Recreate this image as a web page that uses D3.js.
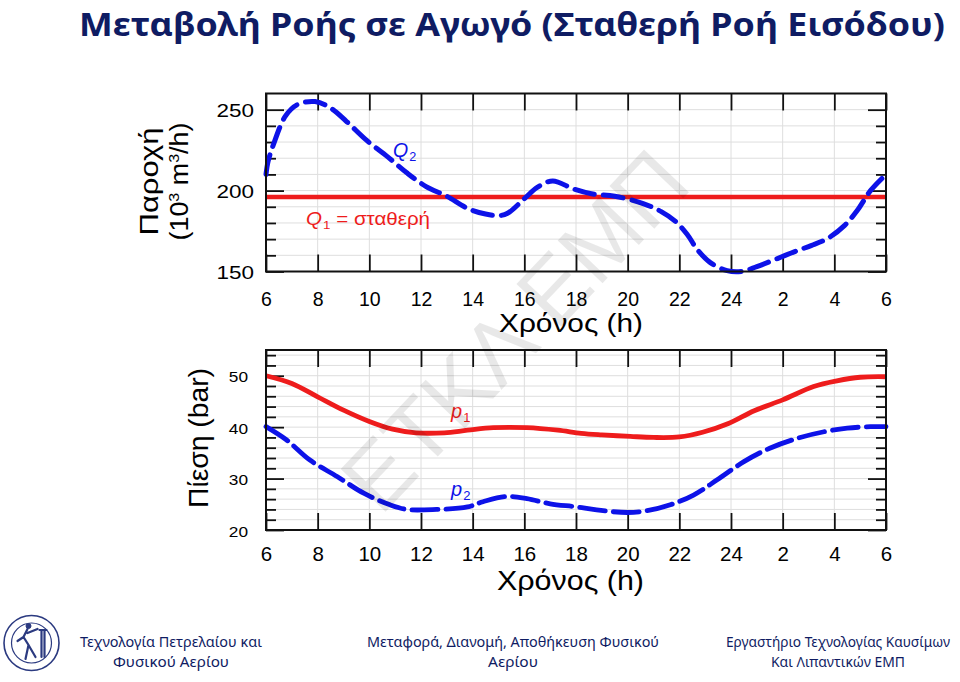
<!DOCTYPE html>
<html><head><meta charset="utf-8">
<script src="https://cdn.jsdelivr.net/npm/d3@7"></script>
<style>body{margin:0;background:#fff}</style>
</head><body>
<svg id="c" width="960" height="682"></svg>
<script>
// ---------- data ----------
const xTickValues = [6,8,10,12,14,16,18,20,22,24,26,28,30];
const xTickLabels = ["6","8","10","12","14","16","18","20","22","24","2","4","6"];
const flowTickValues = [150,200,250];
const flowMinorTicks = [160,170,180,190,210,220,230,240];
const flowGrid = [160,170,180,190,200,210,220,230,240,250];
const pressureTickValues = [20,30,40,50];
const pressureMinorTicks = [22,24,26,28,32,34,36,38,42,44,46,48,52,54];
const pressureGrid = [22,24,26,28,30,32,34,36,38,40,42,44,46,48,50,52,54];

const q1Hours = [6,30];
const q1Values = [196,196];
const q2Hours = [6,6.08,6.3,6.75,7.2,7.9,8.5,9.1,9.9,10.7,11.45,12.2,13,13.8,14.5,15,15.35,16,16.5,17.1,17.9,18.6,19.5,20.6,21.3,21.85,22.3,22.7,23.2,23.85,24.4,25,25.8,26.5,27.1,27.75,28.4,28.9,29.4,30];
const q2Values = [210,218,229,246,253,255,251,243,231,221,211,202.5,196.5,189,185.5,184.5,186,195,202,206,201,198,196.5,192,187,181,173,163.5,155.5,150.5,150,153,158,162.5,166,170.5,178.5,188,200,210];

const p1Hours = [6,7,8,9,10,10.9,11.8,12.9,13.8,14.8,16.1,17.3,18.2,19,20.1,21,22,22.9,23.9,24.9,26,27.2,28.1,29,30];
const p1Values = [50,48.5,45.9,43.3,41.1,39.6,38.9,38.9,39.4,39.9,39.9,39.4,38.8,38.5,38.2,38,38.1,39,40.7,43.2,45.3,47.9,49,49.7,49.8];
const p2Hours = [6,6.8,7.7,8.75,9.8,10.8,11.45,12.6,13.8,14.4,15.3,16.1,17,18,18.8,20,20.75,21.65,22.55,23.45,24.5,25.5,26.55,27.6,28.5,29.4,30];
const p2Values = [40.1,37.5,33.6,30.4,27.1,24.9,24,24,24.5,25.5,26.5,26.1,25.1,24.5,23.9,23.4,23.75,24.9,26.8,29.7,33.3,35.9,37.8,39.1,39.8,40.1,40.1];

const titleText = "Μεταβολή Ροής σε Αγωγό (Σταθερή Ροή Εισόδου)";
const xTitle = "Χρόνος (h)";
const watermark = "ΕΤΚΛ ΕΜΠ";
const footerLeft = ["Τεχνολογία Πετρελαίου και","Φυσικού Αερίου"];
const footerMid = ["Μεταφορά, Διανομή, Αποθήκευση Φυσικού","Αερίου"];
const footerRight = ["Εργαστήριο Τεχνολογίας Καυσίμων","Και Λιπαντικών ΕΜΠ"];

// ---------- setup ----------
const FONT = "'Liberation Sans', Arial, sans-serif";
const BLUE = "#0d12e8", RED = "#ee1c1c", NAVY = "#0f1c63";
const svg = d3.select("#c");
svg.append("rect").attr("width",960).attr("height",682).attr("fill","#fff");

const X0 = 266, X1 = 886;
const x = d3.scaleLinear().domain([6,30]).range([X0,X1]);
const yQ = d3.scaleLinear().domain([150,260]).range([271.5,93.5]);
const yP = d3.scaleLinear().domain([20,55]).range([530,350]);

function panel(y, grid, majors, minors, opt) {
  const top = y.range()[1], bottom = y.range()[0];
  const g = svg.append("g");
  g.append("g").selectAll("line").data(xTickValues.slice(1,-1)).join("line")
    .attr("x1",d=>x(d)).attr("x2",d=>x(d)).attr("y1",top).attr("y2",bottom)
    .attr("stroke","#dedede").attr("stroke-width",1);
  g.append("g").selectAll("line").data(grid).join("line")
    .attr("x1",X0).attr("x2",X1).attr("y1",d=>y(d)).attr("y2",d=>y(d))
    .attr("stroke","#dedede").attr("stroke-width",1);

  const style = a => { a.select(".domain").remove(); a.selectAll("line").attr("stroke","#111").attr("stroke-width",1.8); };

  const ab = g.append("g").attr("transform",`translate(0,${bottom})`)
    .call(d3.axisBottom(x).tickValues(xTickValues).tickFormat((d,i)=>xTickLabels[i]).tickSizeInner(-17).tickSizeOuter(0));
  style(ab);
  ab.selectAll("text").attr("y",opt.xLabelOff).attr("dy",null)
    .attr("font-family",FONT).attr("font-size",opt.xLabelSize).attr("fill","#000");
  const at = g.append("g").attr("transform",`translate(0,${top})`)
    .call(d3.axisTop(x).tickValues(xTickValues).tickFormat("").tickSizeInner(-17).tickSizeOuter(0));
  style(at);
  const alm = g.append("g").attr("transform",`translate(${X0},0)`)
    .call(d3.axisLeft(y).tickValues(minors).tickFormat("").tickSizeInner(-10).tickSizeOuter(0));
  style(alm);
  const al = g.append("g").attr("transform",`translate(${X0},0)`)
    .call(d3.axisLeft(y).tickValues(majors).tickFormat(d3.format("d")).tickSizeInner(-18).tickSizeOuter(0));
  style(al);
  al.selectAll("text").attr("x",opt.yLabelX).attr("dy",null).attr("y",opt.yLabelDy)
    .attr("font-family",FONT).attr("font-size",opt.yLabelSize).attr("fill","#000")
    .attr("textLength",d=>String(d).length*opt.digitW).attr("lengthAdjust","spacingAndGlyphs");
  const arm = g.append("g").attr("transform",`translate(${X1},0)`)
    .call(d3.axisRight(y).tickValues(minors).tickFormat("").tickSizeInner(-10).tickSizeOuter(0));
  style(arm);
  const ar = g.append("g").attr("transform",`translate(${X1},0)`)
    .call(d3.axisRight(y).tickValues(majors).tickFormat("").tickSizeInner(-18).tickSizeOuter(0));
  style(ar);
  return {g, top, bottom};
}

function series(g, y, hours, values, color, width, dash) {
  const line = d3.line().x(d=>x(d[0])).y(d=>y(d[1])).curve(d3.curveCatmullRom.alpha(0.5));
  g.append("path").datum(d3.zip(hours, values)).attr("d",line)
    .attr("fill","none").attr("stroke",color).attr("stroke-width",width)
    .attr("stroke-linecap", dash ? "round" : "butt").attr("stroke-linejoin","round")
    .attr("stroke-dasharray", dash || null);
}

function frame(g, top, bottom) {
  g.append("rect").attr("x",X0).attr("y",top).attr("width",X1-X0).attr("height",bottom-top)
    .attr("fill","none").attr("stroke","#111").attr("stroke-width",2);
}

// ---------- top panel ----------
const P1 = panel(yQ, flowGrid, flowTickValues, flowMinorTicks,
  {xLabelOff:34, xLabelSize:19.5, yLabelX:-12, yLabelDy:6.5, yLabelSize:17.5, digitW:12.5});
series(P1.g, yQ, q1Hours, q1Values, RED, 4.5, null);
series(P1.g, yQ, q2Hours, q2Values, BLUE, 5, "20,9");
frame(P1.g, P1.top, P1.bottom);

// ---------- bottom panel ----------
const P2 = panel(yP, pressureGrid, pressureTickValues, pressureMinorTicks,
  {xLabelOff:31, xLabelSize:20.5, yLabelX:-18, yLabelDy:6, yLabelSize:15.5, digitW:9.6});
series(P2.g, yP, p1Hours, p1Values, RED, 4.8, null);
series(P2.g, yP, p2Hours, p2Values, BLUE, 4.8, "26,8");
frame(P2.g, P2.top, P2.bottom);

// ---------- series labels ----------
function subLabel(px, py, main, sub, rest, color, size, len) {
  const t = svg.append("text").attr("x",px).attr("y",py).attr("font-family",FONT)
    .attr("font-size",size).attr("fill",color);
  t.append("tspan").attr("font-style","italic").text(main);
  t.append("tspan").attr("font-size",size*0.65).attr("dy",4).attr("dx",1).text(sub);
  if (rest) t.append("tspan").attr("dy",-4).text(rest);
  if (len) t.attr("textLength",len).attr("lengthAdjust","spacingAndGlyphs");
}
subLabel(393, 157, "Q", "2", null, BLUE, 19.5, null);
subLabel(306, 225, "Q", "1", " = σταθερή", RED, 18, 124);
subLabel(451, 418, "p", "1", null, RED, 20, null);
subLabel(451, 496, "p", "2", null, BLUE, 20, null);

// ---------- axis titles ----------
function txt(px, py, s, size, len, rot, extra) {
  const t = svg.append("text").attr("transform",`translate(${px},${py}) rotate(${rot||0})`)
    .attr("text-anchor","middle").attr("font-family",FONT).attr("font-size",size).attr("fill","#000");
  if (extra) extra(t); else t.text(s);
  if (len) t.attr("textLength",len).attr("lengthAdjust","spacingAndGlyphs");
  return t;
}
txt(571, 332, xTitle, 25.5, 144);
txt(570.5, 590, xTitle, 28, 147);
txt(158, 181.5, "Παροχή", 25, 108, -90);
txt(188, 181.5, null, 25, 118, -90, t => {
  t.append("tspan").text("(10");
  t.append("tspan").attr("font-size",15).attr("dy",-9).text("3");
  t.append("tspan").attr("dy",9).text(" m");
  t.append("tspan").attr("font-size",15).attr("dy",-9).text("3");
  t.append("tspan").attr("dy",9).text("/h)");
});
txt(207.5, 438, "Πίεση (bar)", 27, 140, -90);

// ---------- watermark ----------
svg.append("text").attr("transform","translate(514,330) rotate(-46.5)")
  .attr("text-anchor","middle").attr("y",32).attr("font-family",FONT).attr("font-size",90)
  .attr("fill","#000").attr("fill-opacity",0.09).text(watermark);

// ---------- title ----------
svg.append("text").attr("x",512).attr("y",36).attr("text-anchor","middle")
  .attr("font-family","'Noto Sans', 'Open Sans', sans-serif")
  .attr("font-weight","bold").attr("font-size",33).attr("fill",NAVY)
  .attr("textLength",866).attr("lengthAdjust","spacingAndGlyphs").text(titleText);

// ---------- footer ----------
const FF = "'Noto Sans', 'Open Sans', sans-serif";
function foot(cx, lines, lens) {
  lines.forEach((s,i) => {
    svg.append("text").attr("x",cx).attr("y",i?667:647).attr("text-anchor","middle")
      .attr("font-family",FF).attr("font-size",13.5).attr("fill",NAVY)
      .attr("textLength",lens[i]).attr("lengthAdjust","spacingAndGlyphs").text(s);
  });
}
foot(171, footerLeft, [182,116]);
foot(513, footerMid, [292,50]);
foot(838, footerRight, [224,134]);

// logo
const lg = svg.append("g").attr("transform","translate(31.5,643)").attr("fill","none").attr("stroke","#2b3a80");
lg.append("circle").attr("r",27.5).attr("stroke-width",1.6).attr("fill","#fff");
lg.append("circle").attr("r",20).attr("stroke-width",1.2);
lg.append("path").attr("d","M-6,16 L-3,2 L-8,-6 L-4,-14 M-3,2 L4,14 M-4,-10 L6,-14 M-8,-6 L-14,-2 M10,-12 L10,14 M13,-12 L13,14 M8,-13 L15,-13")
  .attr("stroke-width",2.2).attr("stroke-linecap","round");
lg.append("circle").attr("cx",-3).attr("cy",-17).attr("r",2.5).attr("fill","#2b3a80");
</script>
</body></html>
